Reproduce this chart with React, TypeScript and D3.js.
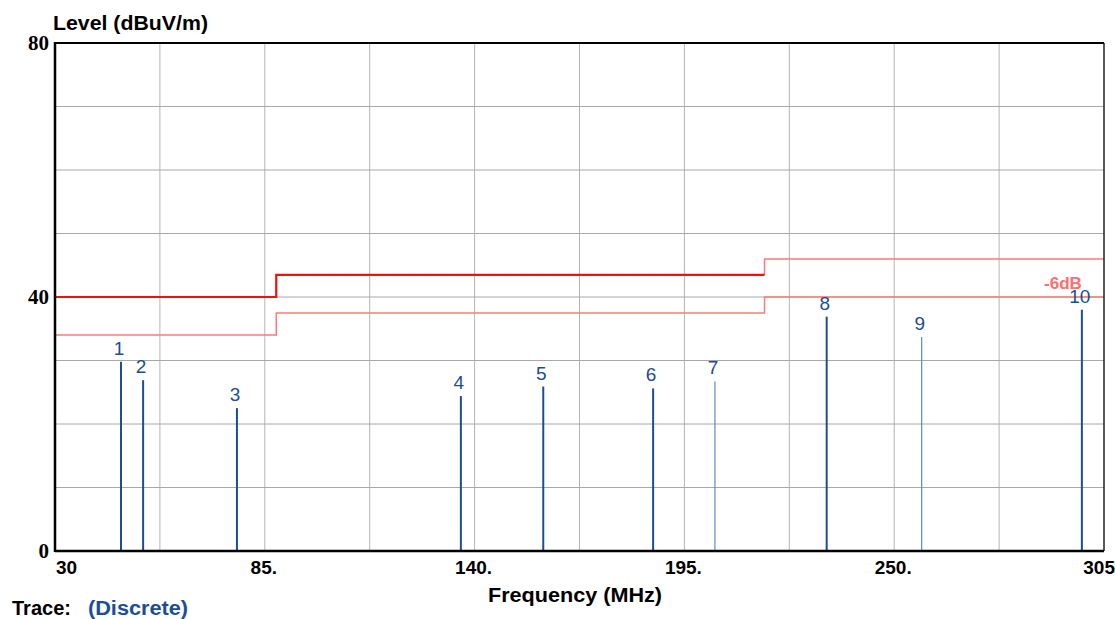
import * as d3 from 'd3';
import React from 'react';

// peak markers (MHz, dBuV/m)
const markerIds = ['1', '2', '3', '4', '5', '6', '7', '8', '9', '10'];
const markerFreq = [47.3, 53.1, 77.7, 136.4, 158.0, 186.8, 203.0, 232.3, 257.2, 299.2];
const markerLevel = [29.8, 26.9, 22.5, 24.4, 25.9, 25.6, 26.7, 36.9, 33.7, 38.0];
const markerFaint = [false, false, false, false, false, false, true, false, true, false];

// limit line steps: [freq, level]
const limitFreq = [30, 88, 88, 216];
const limitLevel = [40, 40, 43.5, 43.5];
const limitHighFreq = [216, 216, 305];
const limitHighLevel = [43.5, 46, 46];
const marginFreq = [30, 88, 88, 216, 216, 305];
const marginLevel = [34, 34, 37.5, 37.5, 40, 40];

const xTicks = [30, 85, 140, 195, 250, 305];
const xTickLabels = ['30', '85.', '140.', '195.', '250.', '305'];
const yTicks = [0, 40, 80];

const W = 1115;
const H = 619;
const left = 55;
const right = 1104;
const top = 43;
const bottom = 551;

const App = () => {
  const x = d3.scaleLinear().domain([30, 305]).range([left, right]);
  const y = d3.scaleLinear().domain([0, 80]).range([bottom, top]);

  const stepPath = (fs: number[], ls: number[]) =>
    d3
      .line<number>()
      .x((i) => x(fs[i]))
      .y((i) => y(ls[i]))(fs.map((_, i) => i)) || '';

  const vGrid = d3.range(0, 11).map((i) => 30 + i * 27.5);
  const hGrid = d3.range(0, 9).map((i) => i * 10);

  const blue = '#1c4d96';
  const faintBlue = '#5a8ac6';
  const sans = 'Liberation Sans, Arial, sans-serif';
  const serif = 'Liberation Serif, Times New Roman, serif';

  return (
    <svg width={W} height={H} style={{ position: 'absolute', left: 0, top: 0, background: '#fff' }}>
      <rect width={W} height={H} fill="#fff" />
      {vGrid.slice(1, -1).map((f) => (
        <line key={'v' + f} x1={x(f)} x2={x(f)} y1={top} y2={bottom} stroke="#b4b4b4" strokeWidth={1} />
      ))}
      {hGrid.slice(1, -1).map((l) => (
        <line key={'h' + l} x1={left} x2={right} y1={y(l)} y2={y(l)} stroke="#a8a8a8" strokeWidth={1} />
      ))}

      <path d={stepPath(marginFreq, marginLevel)} fill="none" stroke="#ff7a7a" strokeWidth={1.5} />
      <path d={stepPath(limitHighFreq, limitHighLevel)} fill="none" stroke="#ff7a7a" strokeWidth={1.5} />
      <path d={stepPath(limitFreq, limitLevel)} fill="none" stroke="#f01010" strokeWidth={2.2} />

      <text x={1063} y={289} fill="#ff6e6e" fontFamily={sans} fontWeight="bold" fontSize={17} textAnchor="middle">
        -6dB
      </text>

      {markerIds.map((id, i) => (
        <g key={id}>
          <line
            x1={x(markerFreq[i])}
            x2={x(markerFreq[i])}
            y1={y(markerLevel[i])}
            y2={bottom}
            stroke={markerFaint[i] ? faintBlue : blue}
            strokeWidth={markerFaint[i] ? 1.2 : 2}
          />
          <text
            x={x(markerFreq[i]) - 2}
            y={y(markerLevel[i]) - 7}
            fill={blue}
            fontFamily={sans}
            fontSize={19}
            textAnchor="middle"
          >
            {id}
          </text>
        </g>
      ))}

      <line x1={left} x2={right} y1={top} y2={top} stroke="#000" strokeWidth={2} />
      <line x1={right} x2={right} y1={top} y2={bottom} stroke="#222" strokeWidth={1.5} />
      <line x1={left} x2={left} y1={top - 1} y2={bottom + 1} stroke="#000" strokeWidth={2.5} />
      <line x1={left} x2={right} y1={bottom} y2={bottom} stroke="#000" strokeWidth={2.5} />

      {yTicks.map((t) => (
        <text key={'y' + t} x={left - 6} y={y(t) + 7} textAnchor="end" fontFamily={serif} fontWeight="bold" fontSize={21}>
          {t}
        </text>
      ))}
      {xTicks.map((t, i) => (
        <text
          key={'x' + t}
          x={i === 0 ? left + 1 : i === xTicks.length - 1 ? right + 11 : x(t) - 1}
          y={bottom + 23}
          textAnchor={i === 0 ? 'start' : i === xTicks.length - 1 ? 'end' : 'middle'}
          fontFamily={sans}
          fontWeight="bold"
          fontSize={19}
        >
          {xTickLabels[i]}
        </text>
      ))}

      <text x={53} y={30} fontFamily={sans} fontWeight="bold" fontSize={20} textLength={155} lengthAdjust="spacingAndGlyphs">
        Level (dBuV/m)
      </text>
      <text x={488} y={602} fontFamily={sans} fontWeight="bold" fontSize={20} textLength={174} lengthAdjust="spacingAndGlyphs">
        Frequency (MHz)
      </text>
      <text x={12} y={615} fontFamily={sans} fontWeight="bold" fontSize={20}>
        Trace:
      </text>
      <text x={88} y={615} fill={blue} fontFamily={sans} fontWeight="bold" fontSize={20} textLength={100} lengthAdjust="spacingAndGlyphs">
        (Discrete)
      </text>
    </svg>
  );
};

export default App;
